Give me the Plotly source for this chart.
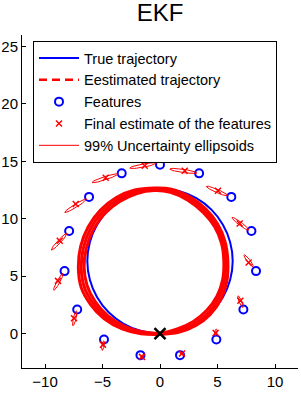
import numpy as np
import plotly.graph_objects as go

# ---- data ----
true_x = [0.0, 1.64, 3.16, 4.47, 5.47, 6.10, 6.32, 6.10, 5.47, 4.47, 3.16, 1.64, 0.0,
          -1.64, -3.16, -4.47, -5.47, -6.10, -6.32, -6.10, -5.47, -4.47, -3.16, -1.64, 0.0]
true_y = [0.0, 0.22, 0.85, 1.85, 3.16, 4.68, 6.32, 7.96, 9.48, 10.79, 11.79, 12.42, 12.64,
          12.42, 11.79, 10.79, 9.48, 7.96, 6.32, 4.68, 3.16, 1.85, 0.85, 0.22, 0.0]

est_lap1_x = [0.0, 1.5, 2.9, 4.05, 4.95, 5.45, 5.55, 5.35, 4.75, 3.75, 2.45, 0.9, -0.5,
              -2.0, -3.5, -4.8, -5.8, -6.4, -6.6, -6.35, -5.65, -4.55, -3.1, -1.55, 0.0]
est_lap1_y = [0.05, 0.4, 1.05, 2.0, 3.25, 4.7, 6.3, 7.85, 9.3, 10.55, 11.6, 12.3, 12.45,
              12.2, 11.5, 10.45, 9.05, 7.45, 5.8, 4.2, 2.8, 1.55, 0.65, 0.15, 0.05]
est_lap2_x = [0.0, 1.55, 3.0, 4.2, 5.1, 5.6, 5.7, 5.5, 4.85, 3.82, 2.5, 0.95, -0.5,
              -2.1, -3.65, -4.98, -6.02, -6.65, -6.85, -6.6, -5.85, -4.7, -3.2, -1.6, 0.0]
est_lap2_y = [0.0, 0.25, 0.85, 1.8, 3.1, 4.6, 6.3, 7.95, 9.45, 10.72, 11.8, 12.47, 12.58,
              12.35, 11.7, 10.6, 9.17, 7.5, 5.8, 4.1, 2.68, 1.42, 0.52, 0.08, 0.0]
est_lap3_x = [0.0, 1.62, 3.12, 4.35, 5.3, 5.8, 5.9, 5.65, 5.0, 3.95, 2.55, 1.0, -0.5,
              -2.2, -3.8, -5.18, -6.25, -6.9, -7.1, -6.85, -6.05, -4.85, -3.3, -1.65, 0.0]
est_lap3_y = [-0.08, 0.1, 0.7, 1.65, 2.98, 4.5, 6.3, 8.02, 9.55, 10.88, 11.93, 12.58, 12.68,
              12.5, 11.85, 10.75, 9.28, 7.6, 5.8, 4.0, 2.55, 1.28, 0.4, -0.02, -0.08]

feat_x = [0.0, 3.4, 6.2, 7.95, 8.35, 7.25, 4.9, 1.74, -1.7, -4.87, -7.2, -8.3, -7.9, -6.17, -3.33]
feat_y = [14.7, 13.95, 11.9, 8.93, 5.44, 2.1, -0.52, -1.88, -1.88, -0.52, 2.1, 5.44, 8.93, 11.9, 13.95]

festim_x = [-1.33, 2.15, 5.04, 6.93, 7.71, 6.99, 4.84, 1.91, -1.57, -4.96, -7.48, -8.87, -8.72, -7.33, -4.72]
festim_y = [14.62, 14.18, 12.44, 9.59, 6.19, 2.85, 0.05, -1.74, -2.03, -0.98, 1.34, 4.59, 8.08, 11.28, 13.57]

ell_cx = [-1.47, 2.03, 4.97, 6.99, 7.7, 7.0, 4.85, 1.91, -1.57, -4.96, -7.42, -8.84, -8.77, -7.34, -4.78]
ell_cy = [14.63, 14.16, 12.41, 9.56, 6.34, 2.78, 0.1, -1.74, -2.03, -1.05, 1.33, 4.5, 8.0, 11.13, 13.53]
ell_a = [1.18, 1.2, 1.03, 0.91, 0.65, 0.55, 0.3, 0.22, 0.2, 0.42, 0.67, 0.83, 0.99, 1.11, 1.19]
ell_b = [0.14, 0.14, 0.14, 0.14, 0.13, 0.12, 0.1, 0.1, 0.1, 0.1, 0.12, 0.13, 0.14, 0.14, 0.14]
ell_ang = [10.5, -8.4, -23.6, -37, -53, -67, 80, -45, 60, 80, 77, 61, 47, 31.8, 18]

start_x = [0.0]
start_y = [0.0]

# ---- build ellipse outlines from their read parameters ----
t = np.linspace(0, 2 * np.pi, 40)
ex, ey = [], []
for cx, cy, a, b, ang in zip(ell_cx, ell_cy, ell_a, ell_b, ell_ang):
    th = np.deg2rad(ang)
    px = a * np.cos(t)
    py = b * np.sin(t)
    ex += list(cx + px * np.cos(th) - py * np.sin(th)) + [None]
    ey += list(cy + px * np.sin(th) + py * np.cos(th)) + [None]

lap_x = est_lap1_x + [None] + est_lap2_x + [None] + est_lap3_x
lap_y = est_lap1_y + [None] + est_lap2_y + [None] + est_lap3_y

RED = "#ff0000"
BLUE = "#0000ff"

fig = go.Figure()
fig.add_trace(go.Scatter(x=true_x, y=true_y, mode="lines", name="True trajectory",
                         line=dict(color=BLUE, width=2, shape="spline")))
fig.add_trace(go.Scatter(x=lap_x, y=lap_y, mode="lines", showlegend=False,
                         line=dict(color=RED, width=3, shape="spline"), hoverinfo="skip"))
fig.add_trace(go.Scatter(x=[None], y=[None], mode="lines", name="Eestimated trajectory",
                         line=dict(color=RED, width=2.5, dash="8px,5px")))
fig.add_trace(go.Scatter(x=feat_x, y=feat_y, mode="markers", name="Features",
                         marker=dict(symbol="circle-open", size=8, color=BLUE,
                                     line=dict(width=2, color=BLUE))))
fig.add_trace(go.Scatter(x=festim_x, y=festim_y, mode="markers",
                         name="Final estimate of the features",
                         marker=dict(symbol="x-thin-open", size=6, color=RED,
                                     line=dict(width=1.5, color=RED))))
fig.add_trace(go.Scatter(x=ex, y=ey, mode="lines", name="99% Uncertainty ellipsoids",
                         line=dict(color=RED, width=1)))
fig.add_trace(go.Scatter(x=start_x, y=start_y, mode="markers", showlegend=False,
                         marker=dict(symbol="x-thin-open", size=11, color="black",
                                     line=dict(width=2.5, color="black"))))

font = "Liberation Sans, Arial, sans-serif"
fig.update_layout(
    width=301, height=394,
    margin=dict(l=22, r=3, t=35, b=26, autoexpand=False),
    paper_bgcolor="white", plot_bgcolor="white",
    font=dict(family=font, size=15, color="black"),
    title=dict(text="EKF", x=0.5, xref="paper", y=1 - 13 / 394, yref="container",
               xanchor="center", yanchor="middle", font=dict(size=24, family=font)),
    showlegend=True,
    legend=dict(x=(33 - 22) / 276, y=1 - (41 - 35) / 333, xanchor="left", yanchor="top",
                bgcolor="white", bordercolor="black", borderwidth=1,
                font=dict(size=14.5, family=font), traceorder="normal",
                tracegroupgap=0, itemwidth=40),
)
axis_common = dict(showline=True, linecolor="black", linewidth=1, ticks="inside",
                   ticklen=4, tickcolor="black", showgrid=False, zeroline=False,
                   mirror=False, automargin=False, tickfont=dict(size=15, family=font))
fig.update_xaxes(range=[-12, 12], tickvals=[-10, -5, 0, 5, 10], **axis_common)
fig.update_yaxes(range=[-3, 26], tickvals=[0, 5, 10, 15, 20, 25], **axis_common)

fig.write_html("out.html", config={"displayModeBar": False},
               post_script="document.body.style.margin='0px';")
